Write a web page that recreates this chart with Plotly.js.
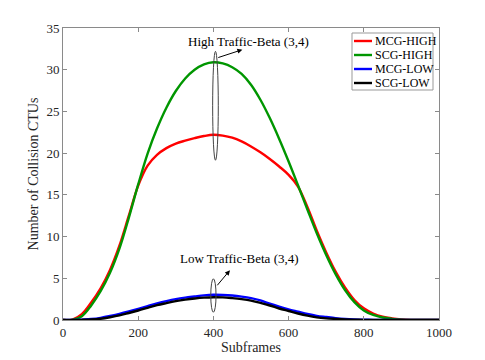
<!DOCTYPE html>
<html>
<head>
<meta charset="utf-8">
<script src="https://cdn.plot.ly/plotly-3.0.1.min.js"></script>
<style>
  html, body { margin: 0; padding: 0; background: #fff; }
  #chart { width: 485px; height: 360px; }
</style>
</head>
<body>
<div id="chart"></div>
<script>
// subframe positions of the read-off samples
var subframes = [0, 25, 50, 75, 100, 125, 150, 175, 200, 225, 250, 275, 300, 325, 350, 375, 400,
    425, 450, 475, 500, 525, 550, 575, 600, 625, 650, 675, 700, 725, 750, 775, 800,
    825, 850, 875, 900, 925, 950, 975, 1000];

var mcgHigh = [0, 0.05, 0.7, 2.1, 3.8, 6.0, 8.9, 12.5, 16.1, 18.5, 19.8, 20.6, 21.15, 21.5, 21.8, 22.05, 22.2,
    22.1, 21.85, 21.4, 20.8, 20.1, 19.3, 18.4, 17.4, 16.0, 13.55, 10.7, 8.1, 5.8, 3.9, 2.4, 1.4,
    0.78, 0.4, 0.2, 0.08, 0.02, 0, 0, 0];

var scgHigh = [0, 0, 0.45, 1.75, 3.45, 5.65, 8.55, 12.25, 16.25, 19.95, 22.95, 25.45, 27.45, 28.95, 30.0, 30.65, 30.9,
    30.75, 30.3, 29.5, 28.2, 26.4, 24.2, 21.7, 19.0, 16.15, 13.25, 10.4, 7.8, 5.5, 3.6, 2.15, 1.15,
    0.6, 0.3, 0.14, 0.04, 0, 0, 0, 0];

var mcgLow = [0, 0, 0.05, 0.12, 0.26, 0.48, 0.74, 1.03, 1.34, 1.66, 1.98, 2.26, 2.5, 2.68, 2.82, 2.95, 3.02,
    3.0, 2.93, 2.8, 2.62, 2.35, 1.95, 1.6, 1.28, 1.0, 0.72, 0.5, 0.36, 0.23, 0.14, 0.08, 0.04,
    0.02, 0.01, 0, 0, 0, 0, 0, 0];

var scgLow = [0, 0, 0.02, 0.06, 0.15, 0.33, 0.55, 0.84, 1.14, 1.46, 1.78, 2.03, 2.26, 2.44, 2.58, 2.68, 2.73,
    2.71, 2.62, 2.5, 2.33, 2.05, 1.74, 1.38, 1.08, 0.78, 0.52, 0.32, 0.2, 0.13, 0.07, 0.04, 0.02,
    0.01, 0, 0, 0, 0, 0, 0, 0];

var seriesNames = ['MCG-HIGH', 'SCG-HIGH', 'MCG-LOW', 'SCG-LOW'];
var seriesColors = ['rgb(255, 0, 0)', 'rgb(0, 150, 0)', 'rgb(0, 0, 255)', 'rgb(0, 0, 0)'];

var xTicks = [0, 200, 400, 600, 800, 1000];
var yTicks = [0, 5, 10, 15, 20, 25, 30, 35];

var serif = 'Liberation Serif, Times New Roman, serif';

// plot area in page pixels, used for the hand-made legend box
var plotLeft = 63, plotRight = 439, plotTop = 28, plotBottom = 320;
function px(x) { return (x - plotLeft) / (plotRight - plotLeft); }
function py(y) { return (plotBottom - y) / (plotBottom - plotTop); }

function createLine(x, y, name, color) {
    return {
        x: x,
        y: y,
        mode: 'lines',
        name: name,
        showlegend: false,
        line: {
            shape: 'spline',
            smoothing: 1,
            width: 2.4,
            color: color
        }
    }
}

var values = [mcgHigh, scgHigh, mcgLow, scgLow];
var data = values.map(function (v, i) {
    return createLine(subframes, v, seriesNames[i], seriesColors[i]);
});

var axisCommon = {
    showgrid: false,
    zeroline: false,
    showline: true,
    mirror: 'ticks',
    linecolor: '#8a8a8a',
    linewidth: 1,
    ticks: 'inside',
    ticklen: 4,
    tickcolor: '#8a8a8a',
    tickfont: {family: serif, size: 13, color: '#262626'}
};

var shapes = [
    {type: 'circle', xref: 'x', yref: 'y', x0: 398, x1: 413, y0: 19.15, y1: 32.2,
        line: {color: '#444', width: 1}},
    {type: 'circle', xref: 'x', yref: 'y', x0: 393, x1: 407, y0: 0.93, y1: 4.94,
        line: {color: '#444', width: 1}},
    // legend box
    {type: 'rect', xref: 'paper', yref: 'paper', x0: px(352), x1: px(433), y0: py(90), y1: py(33),
        fillcolor: '#fff', line: {color: '#999', width: 1}, layer: 'above'}
];

var annotations = [
    {x: 493, y: 33.4, xref: 'x', yref: 'y', text: 'High Traffic-Beta (3,4)', showarrow: false,
        font: {family: serif, size: 13, color: '#000'}},
    {x: 477, y: 32.4, ax: 409, ay: 31.4, xref: 'x', yref: 'y', axref: 'x', ayref: 'y',
        text: '', showarrow: true, arrowhead: 2, arrowsize: 1, arrowwidth: 1, arrowcolor: '#000'},
    {x: 469, y: 7.4, xref: 'x', yref: 'y', text: 'Low Traffic-Beta (3,4)', showarrow: false,
        font: {family: serif, size: 13, color: '#000'}},
    {x: 444, y: 5.97, ax: 407, ay: 3.98, xref: 'x', yref: 'y', axref: 'x', ayref: 'y',
        text: '', showarrow: true, arrowhead: 2, arrowsize: 1, arrowwidth: 1, arrowcolor: '#000'}
];

// legend entries: short line + name
seriesNames.forEach(function (name, i) {
    var rowY = 41 + i * 14;
    shapes.push({type: 'line', xref: 'paper', yref: 'paper', x0: px(354), x1: px(372),
        y0: py(rowY), y1: py(rowY), line: {color: seriesColors[i], width: 2.4}, layer: 'above'});
    annotations.push({xref: 'paper', yref: 'paper', x: px(373), y: py(rowY), xanchor: 'left',
        yanchor: 'middle', text: name, showarrow: false,
        font: {family: serif, size: 12, color: '#000'}});
});

var layout = {
    width: 485,
    height: 360,
    margin: {l: 63, r: 46, t: 28, b: 40},
    paper_bgcolor: '#fff',
    plot_bgcolor: '#fff',
    showlegend: false,
    font: {family: serif, color: '#262626'},
    xaxis: Object.assign({}, axisCommon, {
        range: [0, 1000],
        tickvals: xTicks,
        title: {text: 'Subframes', font: {family: serif, size: 14, color: '#262626'}, standoff: 2}
    }),
    yaxis: Object.assign({}, axisCommon, {
        range: [0, 35],
        tickvals: yTicks,
        automargin: true,
        title: {text: 'Number of Collision CTUs', font: {family: serif, size: 14, color: '#262626'}, standoff: 4}
    }),
    shapes: shapes,
    annotations: annotations
};

Plotly.newPlot('chart', data, layout, {displayModeBar: false});
</script>
</body>
</html>
